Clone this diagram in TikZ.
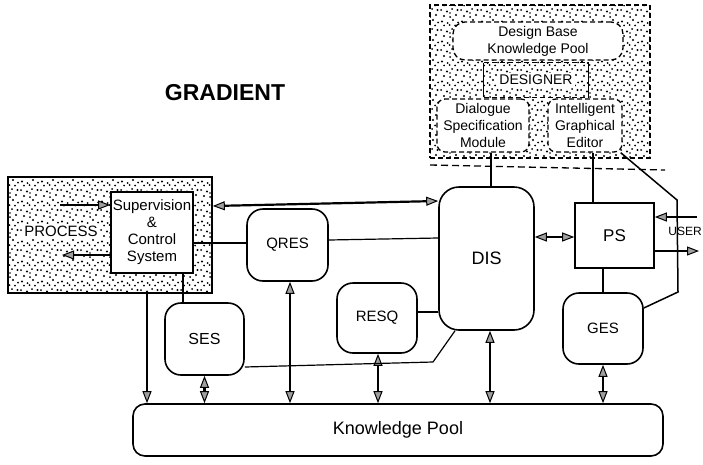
\documentclass[tikz,border=0pt]{standalone}
\usepackage{fontspec}
\setmainfont{Liberation Sans}
\usetikzlibrary{arrows.meta,patterns,calc}
\pgfdeclarepatternformonly{stipple}{\pgfqpoint{-2pt}{-2pt}}{\pgfqpoint{22pt}{22pt}}{\pgfqpoint{20pt}{20pt}}{%
  \pgfpathcircle{\pgfqpoint{2pt}{2.5pt}}{1.2pt}%
  \pgfpathcircle{\pgfqpoint{7.5pt}{1pt}}{1.0pt}%
  \pgfpathcircle{\pgfqpoint{13pt}{4pt}}{1.2pt}%
  \pgfpathcircle{\pgfqpoint{18pt}{1.5pt}}{1.0pt}%
  \pgfpathcircle{\pgfqpoint{4pt}{8pt}}{1.2pt}%
  \pgfpathcircle{\pgfqpoint{10pt}{7pt}}{1.0pt}%
  \pgfpathcircle{\pgfqpoint{16pt}{9pt}}{1.2pt}%
  \pgfpathcircle{\pgfqpoint{1pt}{14pt}}{1.0pt}%
  \pgfpathcircle{\pgfqpoint{7pt}{12.5pt}}{1.2pt}%
  \pgfpathcircle{\pgfqpoint{12pt}{15pt}}{1.0pt}%
  \pgfpathcircle{\pgfqpoint{17.5pt}{14pt}}{1.2pt}%
  \pgfpathcircle{\pgfqpoint{4pt}{18.5pt}}{1.0pt}%
  \pgfpathcircle{\pgfqpoint{15pt}{18.5pt}}{1.0pt}%
  \pgfpathcircle{\pgfqpoint{9.5pt}{19pt}}{1.0pt}%
  \pgfpathcircle{\pgfqpoint{10pt}{11pt}}{0.9pt}%
  \pgfusepath{fill}}
\tikzset{
  box/.style={draw, line width=1.6pt, fill=white, align=center, inner sep=0pt},
  rbox/.style={box, rounded corners=16pt},
  dashline/.style={dash pattern=on 5pt off 3pt, line width=1.3pt},
  dbox/.style={draw, dashline, fill=white, align=center, rounded corners=8pt, inner sep=0pt},
  stippled/.style={pattern=stipple, pattern color=black},
  conn/.style={line width=1.2pt},
  gtip/.tip={Triangle[length=12pt,width=9pt,fill=gray!75,line width=1pt]},
  arr/.style={line width=1.6pt, -gtip},
  darr/.style={line width=2.2pt, gtip-gtip},
  f13/.style={font=\fontsize{14}{17}\selectfont},
  f14/.style={font=\fontsize{14}{16.7}\selectfont},
  f15/.style={font=\fontsize{15}{17}\selectfont},
}
\begin{document}
\begin{tikzpicture}[x=1pt,y=-1pt]
\useasboundingbox (0,0) rectangle (703,464);

% ---------- designer region ----------
\node[draw, dashline, stippled, minimum width=220pt, minimum height=153pt, inner sep=0pt] (desreg) at (540,81.5) {};
\node[dbox, rounded corners=12pt, minimum width=170pt, minimum height=38pt, f13] (dbkp) at (538,41) {Design Base\\Knowledge Pool};
\node[minimum width=104pt, minimum height=34pt, inner sep=0pt] (dsgn) at (536,80) {};
\draw[line width=1.3pt] (dsgn.north west) -- (dsgn.south west) (dsgn.north east) -- (dsgn.south east);
\draw[dashline] (dsgn.north west) -- (dsgn.north east) (dsgn.south west) -- (dsgn.south east);
\node[fill=white, inner sep=2pt, font=\fontsize{14}{14}\selectfont] (dsgntxt) at (dsgn) {DESIGNER};
\node[dbox, minimum width=92pt, minimum height=53pt, f14] (dsm) at (483,125.5) {Dialogue\\Specification\\Module};
\node[dbox, minimum width=74pt, minimum height=53pt, f14] (ige) at (585,125.5) {Intelligent\\Graphical\\Editor};
\draw[dash pattern=on 7pt off 4pt, line width=1.3pt] (430,165) -- (665,170);

% ---------- title ----------
\node[font=\bfseries\fontsize{23}{23}\selectfont] (title) at (225,93) {GRADIENT};

% ---------- process ----------
\node[draw, line width=1.6pt, stippled, minimum width=204pt, minimum height=116pt, inner sep=0pt] (proc) at (110,235) {};
\node[fill=white, inner sep=2pt, font=\fontsize{15}{15}\selectfont] (ptxt) at (61,231) {PROCESS};
\node[box, minimum width=82pt, minimum height=81pt, f15] (sup) at (152,232.5) {Supervision\\\&\\Control\\System};

% ---------- main nodes ----------
\node[rbox, minimum width=81pt, minimum height=72pt, f15] (qres) at (287.5,245) {QRES};
\node[rbox, rounded corners=20pt, minimum width=95pt, minimum height=143pt, font=\fontsize{18}{18}\selectfont] (dis) at (486.5,258.5) {DIS};
\node[rbox, minimum width=80pt, minimum height=70pt, f15] (resq) at (377,318) {RESQ};
\node[rbox, minimum width=79pt, minimum height=72pt, font=\fontsize{16}{16}\selectfont] (ses) at (204.5,339) {SES};
\node[box, minimum width=79pt, minimum height=65pt, font=\fontsize{17}{17}\selectfont] (ps) at (614.5,235.5) {PS};
\node[rbox, minimum width=80pt, minimum height=71pt, f15] (ges) at (603,328.5) {GES};
\node[box, rounded corners=12pt, minimum width=530pt, minimum height=52pt, font=\fontsize{18}{18}\selectfont] (kp) at (398,430) {Knowledge Pool};
\node[font=\fontsize{12}{12}\selectfont, inner sep=0pt] (user) at (685,231) {USER};

% ---------- connectors ----------
\coordinate (pin) at (60,205);
\coordinate (pout) at (62,255);
\draw[arr] (pin) -- (sup.west |- pin);
\draw[arr] (sup.west |- pout) -- (pout);
\draw[darr] (proc.east |- 0,206) -- (dis.west |- 0,201);
\draw[conn] (sup.east |- 0,243) -- (qres.west |- 0,243);
\draw[conn] (qres.east |- 0,240) -- (dis.west |- 0,238);
\draw[darr] (dis.east |- 0,237) -- (ps.west |- 0,237);
\coordinate (uin) at (697,217);
\coordinate (uout) at (699,251);
\draw[arr] (uin) -- (ps.east |- uin);
\draw[arr] (ps.east |- uout) -- (uout);
\draw[conn] (ges.north) -- (ges.north |- ps.south);
\draw[conn] (ige.south -| 593,0) -- (ps.north -| 593,0);
\draw[conn] (dsm.south -| 491,0) -- (dis.north -| 491,0);
\draw[conn, line width=1.5pt] ([xshift=-2pt]ige.south east) -- (677,200) -- (678,292) -- (ges.east |- 0,308);
\draw[conn] (sup.south -| 183,0) -- (ses.north -| 183,0);
\draw[arr] (proc.south -| 147,0) -- (kp.north -| 147,0);
\draw[darr] (ses.south) -- (kp.north -| ses.south);
\draw[darr] (qres.south -| 290,0) -- (kp.north -| 290,0);
\draw[darr] (resq.south -| 378,0) -- (kp.north -| 378,0);
\draw[darr] (dis.south -| 490,0) -- (kp.north -| 490,0);
\draw[darr] (ges.south) -- (kp.north -| ges.south);
\draw[conn] (resq.east |- 0,312) -- (dis.west |- 0,312);
\draw[conn] (ses.east |- 0,367) -- (433,362) -- (dis.south -| 455,0);
\end{tikzpicture}
\end{document}
